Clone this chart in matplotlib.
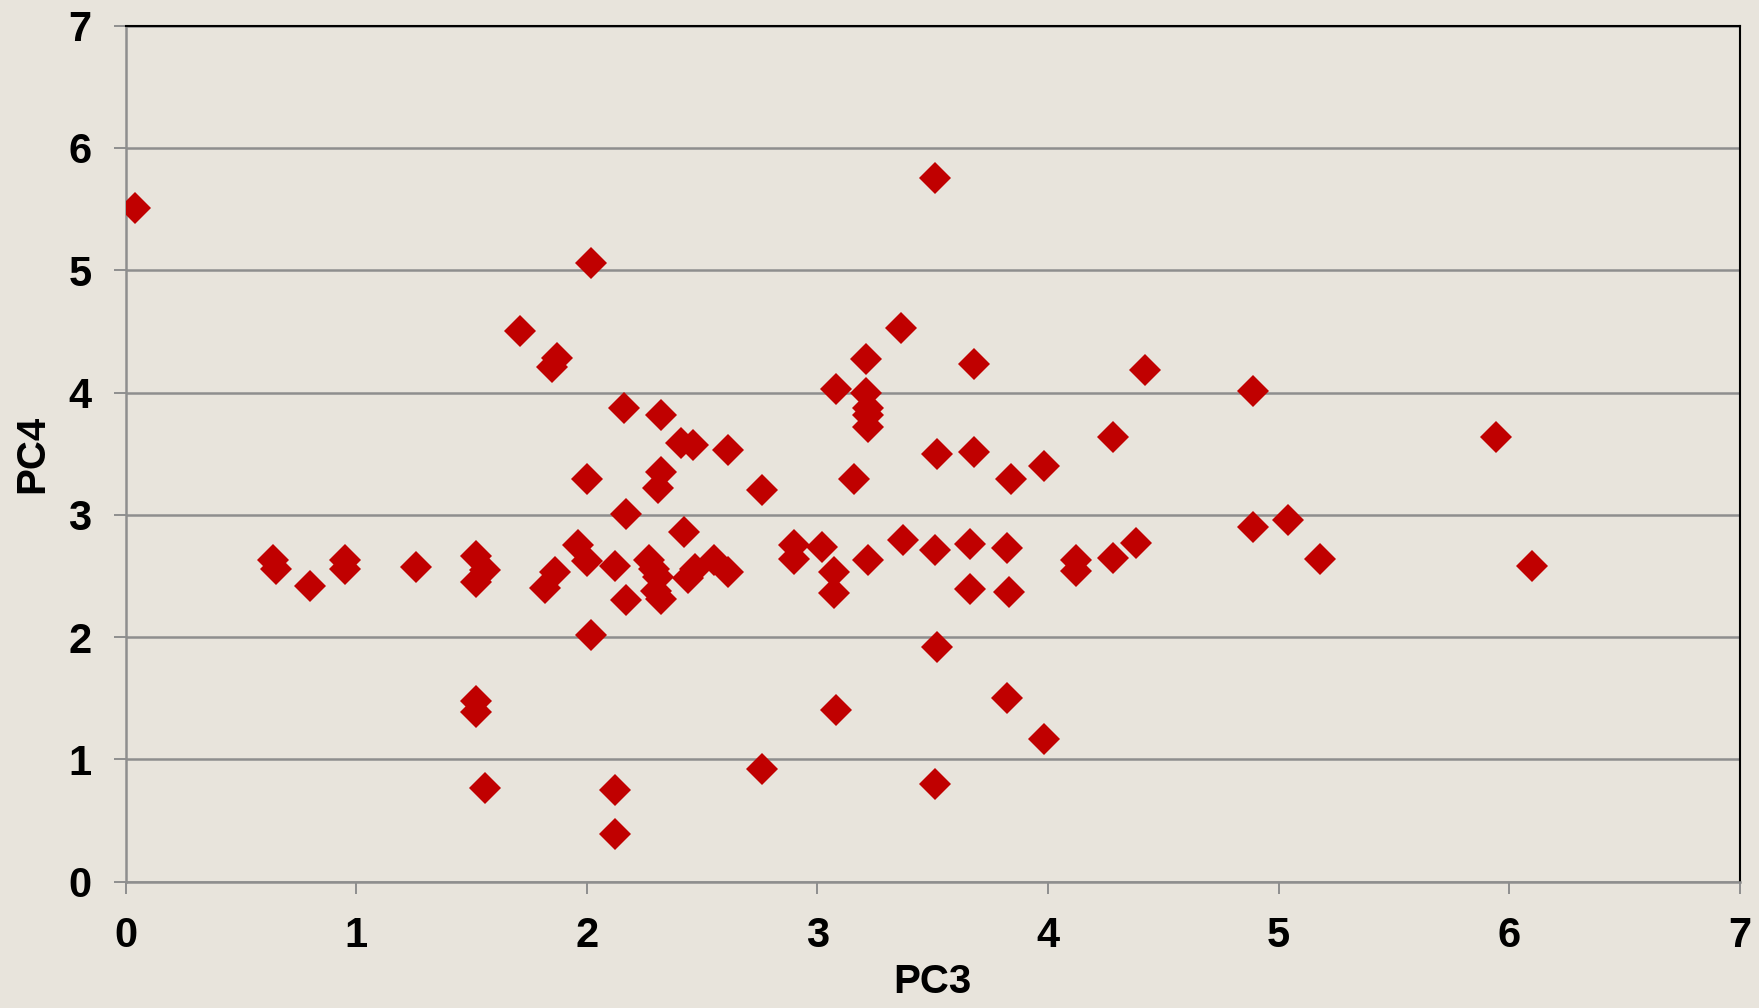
import matplotlib
matplotlib.use("Agg")
import matplotlib.pyplot as plt

# PC3 / PC4 scores
pc3 = [0.04, 0.64, 0.65, 0.80, 0.95, 0.95, 1.26, 1.52, 1.56, 1.52,
       1.52, 1.52, 1.56, 1.71, 1.87, 1.85, 1.86, 1.82, 1.96, 2.00,
       2.00, 2.02, 2.02, 2.12, 2.12, 2.12, 2.16, 2.17, 2.17, 2.27,
       2.29, 2.31, 2.30, 2.32, 2.32, 2.32, 2.31, 2.41, 2.46, 2.42,
       2.44, 2.47, 2.55, 2.61, 2.61, 2.76, 2.76, 2.90, 2.90, 3.02,
       3.07, 3.07, 3.08, 3.08, 3.16, 3.21, 3.21, 3.22, 3.22, 3.22,
       3.22, 3.36, 3.37, 3.51, 3.51, 3.51, 3.52, 3.52, 3.66, 3.66,
       3.68, 3.68, 3.82, 3.83, 3.84, 3.82, 3.98, 3.98, 4.12, 4.12,
       4.28, 4.28, 4.38, 4.42, 4.89, 4.89, 5.04, 5.18, 5.94, 6.10]
pc4 = [5.51, 2.63, 2.56, 2.42, 2.63, 2.56, 2.57, 2.66, 2.55, 2.45,
       1.48, 1.39, 0.77, 4.50, 4.28, 4.21, 2.53, 2.40, 2.75, 2.62,
       3.29, 5.06, 2.02, 2.58, 0.75, 0.39, 3.87, 3.01, 2.30, 2.63,
       2.56, 2.49, 2.38, 2.31, 3.82, 3.35, 3.22, 3.59, 3.57, 2.86,
       2.48, 2.56, 2.63, 2.53, 3.53, 3.20, 0.92, 2.75, 2.64, 2.74,
       2.53, 2.36, 4.03, 1.40, 3.29, 4.27, 4.00, 3.87, 3.82, 3.72,
       2.63, 4.53, 2.79, 5.75, 2.71, 0.80, 3.50, 1.92, 2.76, 2.39,
       4.23, 3.51, 2.73, 2.37, 3.29, 1.50, 3.40, 1.17, 2.63, 2.54,
       3.64, 2.65, 2.77, 4.18, 4.01, 2.90, 2.96, 2.64, 3.64, 2.58]

bg = "#E8E4DC"
grid_c = "#8E8E8E"

plt.rcParams["font.family"] = ["Liberation Sans", "DejaVu Sans"]
plt.rcParams["font.weight"] = "bold"

fig = plt.figure(figsize=(17.59, 10.08), dpi=100, facecolor=bg)
ax = fig.add_axes([0.0714, 0.1253, 0.9178, 0.8493], facecolor=bg)

ax.plot(pc3, pc4, ls="none", marker="D", ms=16, mew=0,
        color="#C00000", zorder=3)

ax.set_xlim(0, 7)
ax.set_ylim(0, 7)
ax.set_xticks(range(8))
ax.set_yticks(range(8))
ax.yaxis.grid(True, color=grid_c, lw=1.8)
ax.set_axisbelow(True)

for s in ("left", "bottom"):
    ax.spines[s].set_color(grid_c)
    ax.spines[s].set_linewidth(1.8)
for s in ("top", "right"):
    ax.spines[s].set_color("black")
    ax.spines[s].set_linewidth(1.5)

ax.tick_params(axis="both", direction="out", length=8.6, width=1.4,
               color=grid_c, labelsize=30, pad=16)
for lab in ax.get_xticklabels() + ax.get_yticklabels():
    lab.set_fontweight("bold")

ax.set_xlabel("PC3", fontsize=29, fontweight="bold", labelpad=5)
ax.set_ylabel("PC4", fontsize=29, fontweight="bold", labelpad=12)

fig.savefig("out.png", dpi=100, facecolor=bg)
